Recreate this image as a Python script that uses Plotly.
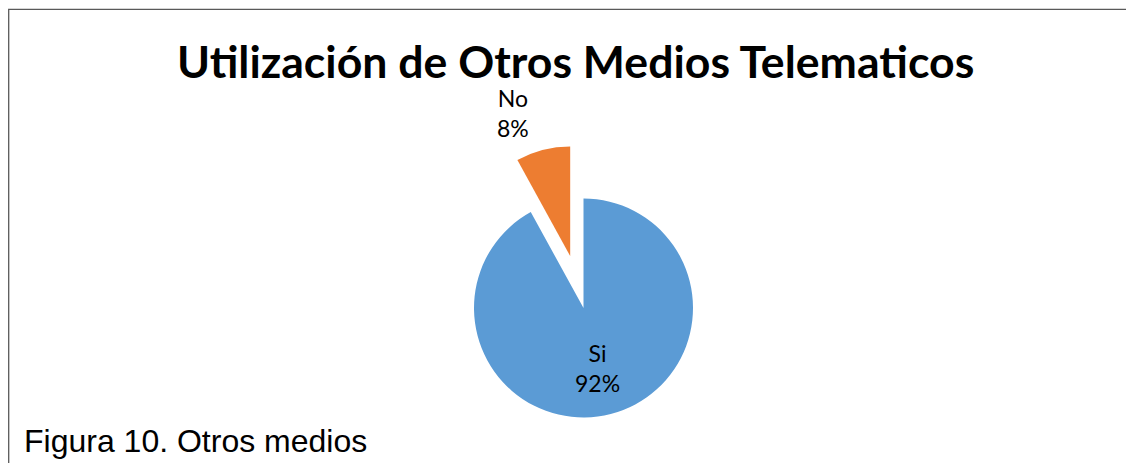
import math
import plotly.graph_objects as go

# ---- data ----
categories = ["Si", "No"]
values = [92, 8]
colors = ["#5B9BD5", "#ED7D31"]
title_text = "Utilización de Otros Medios Telematicos"
caption_text = "Figura 10. Otros medios"
explode = [0.0, 0.49]   # exploded fraction of radius for each slice

W, H = 1134, 463
OFF = 8  # page body margin of the browser


def px(x):
    return (x - OFF) / W


def py(y):
    return 1 - (y - OFF) / H


cx, cy, r = 583.5, 308.0, 109.5   # pie centre / radius in window pixels

total = sum(values)
pct = [v / total for v in values]

fig = go.Figure()

# one trace per slice so an exploded slice can be offset
start = 0.0
for i, (lab, v) in enumerate(zip(categories, values)):
    bis = (start + pct[i] / 2) * 2 * math.pi   # clockwise from 12 o'clock
    start += pct[i]
    d = explode[i] * r
    ox = cx + d * math.sin(bis)
    oy = cy - d * math.cos(bis)
    cols = ["rgba(0,0,0,0)"] * len(values)
    cols[i] = colors[i]
    fig.add_trace(go.Pie(
        labels=categories, values=values, sort=False, direction="clockwise",
        rotation=0, marker=dict(colors=cols, line=dict(width=0)),
        textinfo="none", hoverinfo="skip", showlegend=False,
        domain=dict(x=[px(ox - r), px(ox + r)],
                    y=[py(oy + r), py(oy - r)]),
    ))

label_font = dict(family="Lato", size=23, color="#000000")
label_pos = {"No": (512.5, 113), "Si": (597, 368)}
for lab, p in zip(categories, pct):
    x, y = label_pos[lab]
    fig.add_annotation(text=f"{lab}<br>{round(p*100)}%", x=px(x), y=py(y),
                       xref="paper", yref="paper", showarrow=False,
                       xanchor="center", yanchor="middle", font=label_font,
                       align="center", borderpad=0)

fig.add_annotation(text=f"<b>{title_text}</b>", x=px(575.5), y=py(60),
                   xref="paper", yref="paper", showarrow=False,
                   xanchor="center", yanchor="middle", borderpad=0,
                   font=dict(family="Lato", size=44.6, color="#000000"))

fig.add_annotation(text=caption_text, x=px(22), y=py(441),
                   xref="paper", yref="paper", showarrow=False,
                   xanchor="left", yanchor="middle",
                   font=dict(family="Liberation Sans", size=32, color="#000000"))

# chart frame: only its top and left edges are inside the picture
fx, fy = 0.7 / W, 1 - 1.3 / H
fig.add_shape(type="path", xref="paper", yref="paper",
              path=f"M {fx},-0.05 L {fx},{fy} L 1.02,{fy}",
              line=dict(color="#595959", width=1.3))

fig.update_layout(width=W, height=H, margin=dict(l=0, r=0, t=0, b=0),
                  paper_bgcolor="white", plot_bgcolor="white")

fig.write_html("out.html")
